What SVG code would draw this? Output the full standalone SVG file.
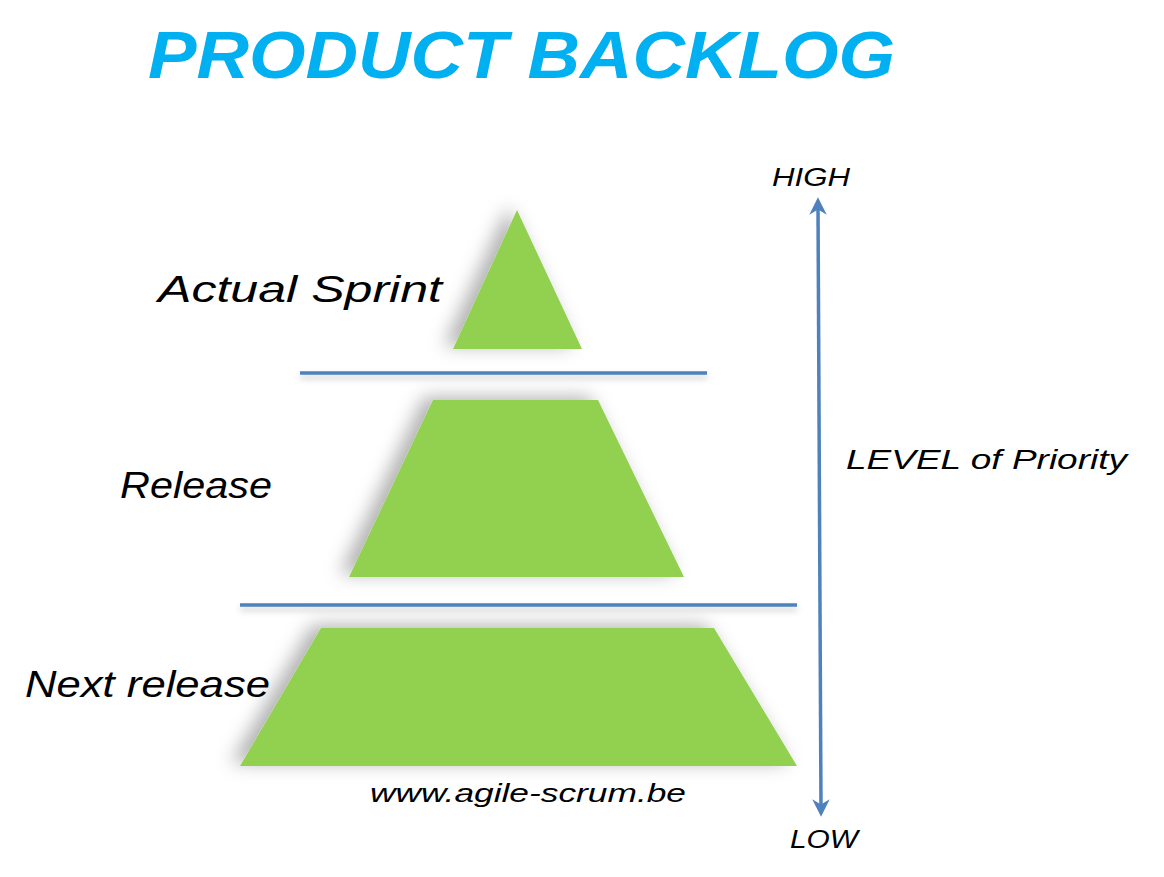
<svg xmlns="http://www.w3.org/2000/svg" width="1164" height="877" viewBox="0 0 1164 877">
<defs>
<style>
.hand{font-family:"Liberation Sans","DejaVu Sans",sans-serif;font-style:italic;fill:#000}
.title{font-family:"Liberation Sans","DejaVu Sans",sans-serif;font-weight:bold;font-style:italic;fill:#00b0f0}
.layer{fill:#92d050;filter:url(#sh)}
.sep{stroke:#4f81bd;stroke-width:3.5;filter:url(#lsh)}
</style>
<filter id="sh" x="-30%" y="-30%" width="160%" height="160%">
<feDropShadow dx="-9" dy="-3" stdDeviation="9" flood-color="#000" flood-opacity="0.3"/>
</filter>
<filter id="lsh" filterUnits="userSpaceOnUse" x="0" y="0" width="1164" height="877">
<feDropShadow dx="0" dy="4" stdDeviation="3" flood-color="#000" flood-opacity="0.2"/>
</filter>
<marker id="ah" viewBox="0 0 10 10" refX="5" refY="5" markerWidth="5" markerHeight="5" orient="auto-start-reverse">
<path d="M0,0 L10,5 L0,10 L3,5 Z" fill="#4f81bd"/>
</marker>
</defs>
<rect width="1164" height="877" fill="#fff"/>
<text class="title" x="148" y="78" font-size="66" textLength="747" lengthAdjust="spacingAndGlyphs">PRODUCT BACKLOG</text>
<g id="sprint">
<polygon class="layer" points="517,210 582,349 453,349"/>
<text class="hand" x="158" y="302" font-size="36" textLength="284" lengthAdjust="spacingAndGlyphs">Actual Sprint</text>
</g>
<g id="release">
<polygon class="layer" points="433,400 598,400 684,577 349,577"/>
<text class="hand" x="120" y="498" font-size="36" textLength="152" lengthAdjust="spacingAndGlyphs">Release</text>
</g>
<g id="next-release">
<polygon class="layer" points="321,628 714,628 797,766 240,766"/>
<text class="hand" x="25" y="697" font-size="36" textLength="245" lengthAdjust="spacingAndGlyphs">Next release</text>
</g>
<g id="connectors">
<line class="sep" x1="300" y1="373" x2="707" y2="373"/>
<line class="sep" x1="240" y1="605" x2="797" y2="605"/>
<line x1="818" y1="206" x2="821" y2="808" stroke="#4f81bd" stroke-width="3.5" marker-start="url(#ah)" marker-end="url(#ah)"/>
</g>
<g id="axis-labels">
<text class="hand" x="772" y="186" font-size="26" textLength="78" lengthAdjust="spacingAndGlyphs">HIGH</text>
<text class="hand" x="790" y="848" font-size="26" textLength="68" lengthAdjust="spacingAndGlyphs">LOW</text>
<text class="hand" x="846" y="469" font-size="27" textLength="281" lengthAdjust="spacingAndGlyphs">LEVEL of Priority</text>
</g>
<text class="hand" x="370" y="802" font-size="25" textLength="316" lengthAdjust="spacingAndGlyphs">www.agile-scrum.be</text>
</svg>
